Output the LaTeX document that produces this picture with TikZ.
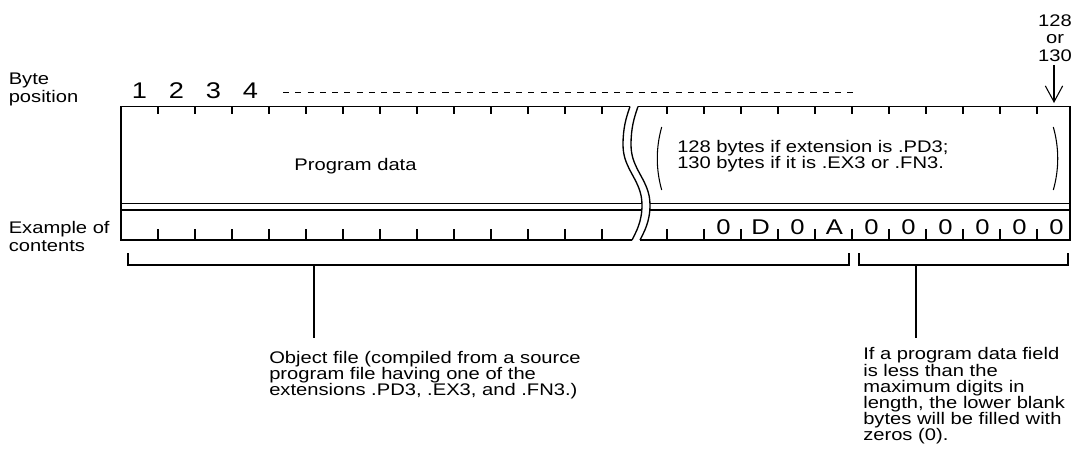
\documentclass[tikz,border=0pt]{standalone}
\usepackage{fontspec}
\setmainfont{Liberation Sans}[FakeStretch=1.2]
\usepackage{tikz}
\usetikzlibrary{calc,arrows.meta,positioning}
\tikzset{
  ln/.style={line width=1pt,black},
  thn/.style={line width=0.8pt,black},
  dsh/.style={line width=0.75pt,dash pattern=on 4.6pt off 4.6pt},
  txt/.style={font=\fontsize{12.6}{12.1}\selectfont,inner sep=0pt,align=left},
  side/.style={font=\fontsize{12.6}{13.5}\selectfont,inner sep=0pt,align=left},
  posn/.style={font=\fontsize{17}{17}\selectfont,inner sep=0pt},
  cnt/.style={font=\fontsize{16}{16}\selectfont,inner sep=0pt},
  ar/.style={-{Straight Barb[length=12pt,width=13pt,line width=0.8pt]},line width=0.8pt}
}
\begin{document}
\begin{tikzpicture}[x=0.75pt,y=-0.75pt]
\useasboundingbox (0,0) rectangle (1081,462);
% record frame, both sides of the break
\draw[ln] (630,106.5) -- (121,106.5) -- (121,240) -- (632,240);
\draw[ln] (638,106.5) -- (1070,106.5) -- (1070,240) -- (640,240);
\draw[thn] (121,203.5) -- (642,203.5) (121,210) -- (642,210);
\draw[thn] (650,203.5) -- (1070,203.5) (650,210) -- (1070,210);
\foreach \s in {0,8}
  \draw[ln] (630+\s,106.5) .. controls (626+\s,118) and (623+\s,128) .. (623+\s,145)
    .. controls (623+\s,170) and (642+\s,180) .. (642+\s,205)
    .. controls (642+\s,222) and (636+\s,232) .. (632+\s,240);
% byte ticks
\foreach \x in {158,195,...,602,667,704,...,1037} {
  \draw[thn] (\x,106.5) -- (\x,114);
  \draw[thn] (\x,240) -- (\x,229);
}
% byte positions
\foreach \d [count=\i from 0] in {1,2,3,4}
  \node[posn] (bp\d) at (139.5+37*\i,91) {\d};
\draw[dsh] (283,92) -- (853,92);
\node[side,anchor=north west] (bytelbl) at (8.5,73) {Byte\\position};
\node[side,anchor=north west] (exlbl) at (8.5,221.5) {Example of\\contents};
% last byte
\node[txt,align=center,anchor=north,font=\fontsize{12.6}{13.1}\selectfont] (lastb) at (1055,14.5) {128\\or\\130};
\coordinate (tip) at (1054,103);
\draw[ar] ($(tip |- lastb.south)+(0,3)$) -- (tip);
% field texts
\node[txt,anchor=base] (pdata) at (355.5,170) {Program data};
\node[txt,anchor=west] (rng) at (677,156.5) {128 bytes if extension is .PD3;\\130 bytes if it is .EX3 or .FN3.};
\draw[thn] (661.7,127) .. controls (655.8,148) and (655.8,169) .. (661.7,190);
\draw[thn] (1053.3,127) .. controls (1059.2,148) and (1059.2,169) .. (1053.3,190);
% example contents
\foreach \c [count=\i from 0] in {0,D,0,A,0,0,0,0,0,0}
  \node[cnt] (c\i) at (723.5+37*\i,227) {\c};
% braces below
\node[txt,anchor=north west] (objtxt) at (269,351) {Object file (compiled from a source\\program file having one of the\\extensions .PD3, .EX3, and .FN3.)};
\node[txt,anchor=north west] (filltxt) at (863,347.5) {If a program data field\\is less than the\\maximum digits in\\length, the lower blank\\bytes will be filled with\\zeros (0).};
\coordinate (objbr) at (314,265);
\coordinate (fillbr) at (916,265);
\draw[thn] (128,253) -- (128,265) -- (849,265) -- (849,253);
\draw[thn] (859,253) -- (859,265) -- (1068,265) -- (1068,253);
\draw[thn] (objbr) -- ($(objbr |- objtxt.north)+(0,-13)$);
\draw[thn] (fillbr) -- ($(fillbr |- filltxt.north)+(0,-9.5)$);
\end{tikzpicture}
\end{document}
